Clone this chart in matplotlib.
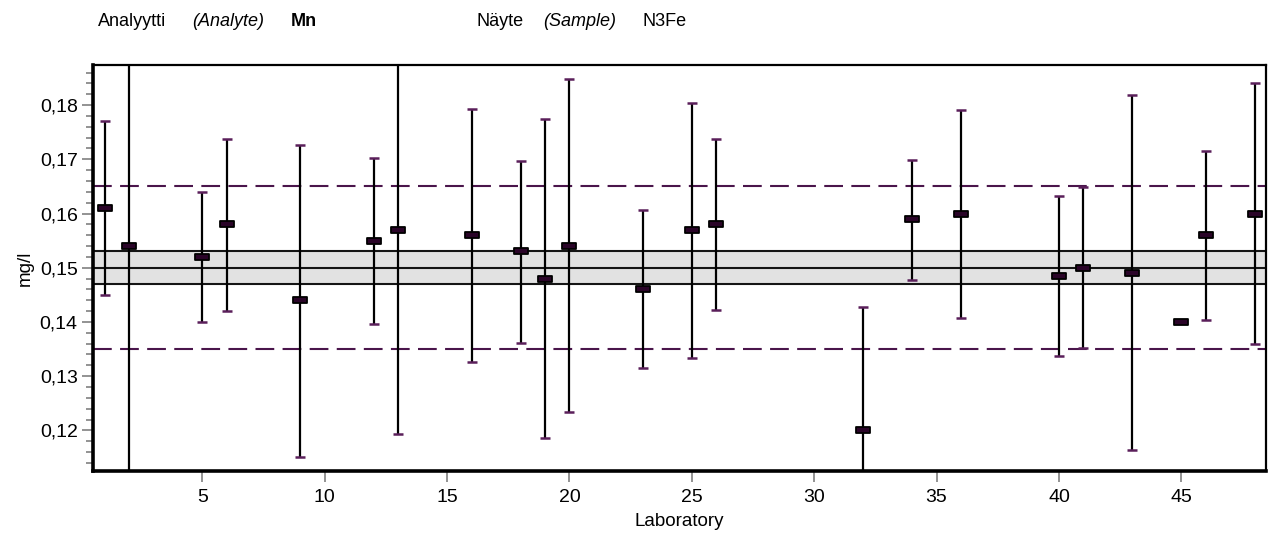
import matplotlib.pyplot as plt
import numpy as np
from matplotlib.path import Path
from matplotlib.ticker import MultipleLocator, FuncFormatter

plt.rcParams['font.family'] = ['Liberation Sans', 'DejaVu Sans']

# laboratory results (mg/l) with their reported uncertainty ranges
labs = [1, 2, 5, 6, 9, 12, 13, 16, 18, 19, 20, 23, 25, 26, 32, 34, 36, 40, 41, 43, 45, 46, 48]
values = [0.161, 0.154, 0.152, 0.158, 0.144, 0.155, 0.157, 0.156, 0.153, 0.148, 0.154, 0.146,
          0.157, 0.158, 0.120, 0.159, 0.160, 0.1485, 0.150, 0.149, 0.140, 0.156, 0.160]
lower = [0.145, 0.104, 0.140, 0.142, 0.115, 0.1396, 0.1193, 0.1326, 0.1362, 0.1185, 0.1233, 0.1315,
         0.1334, 0.1422, 0.097, 0.1478, 0.1407, 0.1337, 0.1352, 0.1163, np.nan, 0.1404, 0.1359]
upper = [0.177, 0.204, 0.164, 0.1737, 0.1726, 0.1703, 0.195, 0.1792, 0.1697, 0.1774, 0.1848, 0.1607,
         0.1804, 0.1737, 0.1428, 0.1699, 0.1791, 0.1633, 0.1649, 0.1818, np.nan, 0.1715, 0.1841]

assigned = 0.150
band_lo, band_hi = 0.147, 0.153
limit_lo, limit_hi = 0.135, 0.165

W, H = 1273, 539
fig = plt.figure(figsize=(W / 100, H / 100), dpi=100)
ax = fig.add_axes([93 / W, 1 - 471 / H, (1266 - 93) / W, (471 - 65) / H])

ax.axhspan(band_lo, band_hi, facecolor='#e2e2e2', edgecolor='none', zorder=1)
for yv in (band_lo, assigned, band_hi):
    ax.axhline(yv, color='#151515', lw=1.5, zorder=2)
for yv in (limit_lo, limit_hi):
    ax.axhline(yv, color='#4a154b', lw=1.5, ls=(0, (9, 4)), zorder=2)

ax.vlines(labs, lower, upper, color='black', lw=1.6, zorder=3)
ax.plot(labs, lower, ls='none', marker='_', ms=7, mew=1.8, color='#5a1f5a', zorder=4)
ax.plot(labs, upper, ls='none', marker='_', ms=7, mew=1.8, color='#5a1f5a', zorder=4)

rect = Path([(-1, -0.4), (1, -0.4), (1, 0.4), (-1, 0.4), (-1, -0.4)],
            [Path.MOVETO, Path.LINETO, Path.LINETO, Path.LINETO, Path.CLOSEPOLY])
ax.plot(labs, values, ls='none', marker=rect, ms=10.5, mfc='#2a0428', mec='black', mew=1.3, zorder=5)

ax.set_xlim(0.53, 48.46)
ax.set_ylim(0.1125, 0.1874)
ax.xaxis.set_major_locator(MultipleLocator(5))
ax.yaxis.set_major_locator(MultipleLocator(0.01))
ax.yaxis.set_minor_locator(MultipleLocator(0.002))
ax.yaxis.set_major_formatter(FuncFormatter(lambda v, _: f'{v:.2f}'.replace('.', ',')))

for side in ('left', 'bottom'):
    ax.spines[side].set_linewidth(2.6)
for side in ('top', 'right'):
    ax.spines[side].set_linewidth(1.6)

ax.tick_params(axis='both', which='both', color='#8a8a8a', direction='out', width=1.3, labelsize=14)
ax.tick_params(axis='y', which='major', length=8, pad=3)
ax.tick_params(axis='y', which='minor', length=5)
ax.tick_params(axis='x', which='major', length=8, pad=5)

ax.set_xlabel('Laboratory', fontsize=13.5, labelpad=5)
ax.set_ylabel('mg/l', fontsize=13.5, labelpad=4)

ty = 1 - 26 / H
fig.text(98 / W, ty, 'Analyytti', fontsize=13, va='baseline')
fig.text(192 / W, ty, '(Analyte)', fontsize=13, style='italic', va='baseline')
fig.text(291 / W, ty, 'Mn', fontsize=13, weight='bold', va='baseline')
fig.text(477 / W, ty, 'Näyte', fontsize=13, va='baseline')
fig.text(543 / W, ty, '(Sample)', fontsize=13, style='italic', va='baseline')
fig.text(643 / W, ty, 'N3Fe', fontsize=13, va='baseline')

fig.savefig('out.png', dpi=100)
